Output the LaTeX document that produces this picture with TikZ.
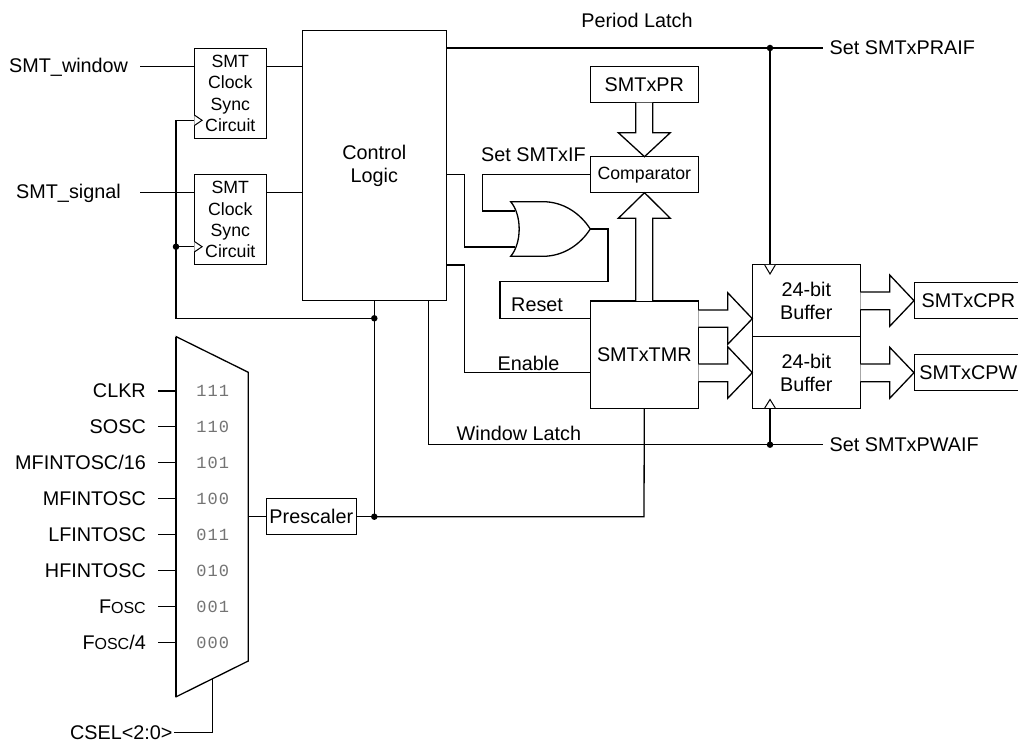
\documentclass[tikz,border=0pt]{standalone}
\usepackage{fontspec}
\setmainfont{Liberation Sans}
\setmonofont[LetterSpace=6]{Liberation Mono}
\tikzset{
  wire/.style={line width=1.3pt,line join=miter},
  blk/.style={draw,line width=1.3pt,fill=white,inner sep=0pt,align=center,font=\fontsize{19.8}{23}\selectfont},
  sbox/.style={blk,font=\fontsize{17.7}{21.2}\selectfont},
  lbl/.style={inner sep=0pt,font=\fontsize{19.8}{22}\selectfont},
  code/.style={inner sep=0pt,text=black!55,font=\ttfamily\fontsize{17}{20}\selectfont},
  dot/.style={circle,fill=black,inner sep=0pt,minimum size=6.5pt},
  shape2/.style={line width=1.3pt,fill=white,line join=miter}
}
\newcommand{\fosc}{F{\fontsize{16}{16}\selectfont OSC}}
\begin{document}
\begin{tikzpicture}[x=1pt,y=-1pt]
\useasboundingbox (0,0) rectangle (1018,743);
% blocks
\node[sbox,minimum width=72pt,minimum height=90pt] (sa) at (230.3,93.5) {SMT\\Clock\\Sync\\Circuit};
\node[sbox,minimum width=72pt,minimum height=90pt] (sb) at (230.3,219.7) {SMT\\Clock\\Sync\\Circuit};
\node[blk,minimum width=144pt,minimum height=269.6pt] (ctl) at (374.3,165.5) {Control\\Logic};
\node[blk,minimum width=108pt,minimum height=36pt] (pr) at (644.3,84.7) {SMTxPR};
\node[sbox,minimum width=108pt,minimum height=36pt] (cmp) at (644.3,174.7) {Comparator};
\node[blk,minimum width=108pt,minimum height=107.3pt] (tmr) at (644.3,354.6) {SMTxTMR};
\node[blk,minimum width=108pt,minimum height=72pt] (bufa) at (806.3,300.7) {24-bit\\Buffer};
\node[blk,minimum width=108pt,minimum height=71.6pt] (bufb) at (806.3,372.5) {24-bit\\Buffer};
\node[blk,minimum width=108pt,minimum height=36pt] (cpr) at (968.3,300.7) {SMTxCPR};
\node[blk,minimum width=108pt,minimum height=36pt] (cpw) at (968.3,372.7) {SMTxCPW};
\node[blk,minimum width=90pt,minimum height=36pt] (pre) at (311.3,516.7) {Prescaler};
% multiplexer
\coordinate (mtl) at (176.3,336.7);
\coordinate (mtr) at (248.3,372.3);
\coordinate (mbr) at (248.3,661);
\coordinate (mbl) at (176.3,696.7);
\draw[shape2] (mtl) -- (mtr) -- (mbr) -- (mbl) -- cycle;
\draw[line width=1.7pt] (mtl) -- (mbl);
\coordinate (mout) at (248.3,516.7);
\coordinate (msel) at (212.3,678.8);
% mux codes and inputs
\foreach \nm/\yy/\cd/\tx in {
  a/391/111/CLKR,b/426.7/110/SOSC,c/462.7/101/MFINTOSC\slash 16,d/498.7/100/MFINTOSC,
  e/534.7/011/LFINTOSC,f/570.7/010/HFINTOSC,g/606.7/001/\fosc,h/642.7/000/\fosc\slash 4}{
  \node[code] (code\nm) at (212.7,\yy) {\cd};
  \node[lbl,anchor=base east] (in\nm) at (146,\yy+7) {\tx};
  \coordinate (st\nm) at (158.3,\yy);
  \coordinate (en\nm) at (176.3,\yy);
  \draw[wire] (st\nm) -- (en\nm);
}
% labels
\node[lbl,anchor=base west] (lwin) at (9,73) {SMT\_window};
\node[lbl,anchor=base west] (lsig) at (16,199) {SMT\_signal};
\node[lbl,anchor=base] (lper) at (637,28) {Period Latch};
\node[lbl,anchor=base west] (lpra) at (829.5,55) {Set SMTxPRAIF};
\node[lbl,anchor=base west] (lpwa) at (829.5,451.5) {Set SMTxPWAIF};
\node[lbl,anchor=base west] (lif) at (481,162) {Set SMTxIF};
\node[lbl,anchor=base west] (lrst) at (511,312) {Reset};
\node[lbl,anchor=base west] (len) at (497.5,371) {Enable};
\node[lbl,anchor=base west] (lwl) at (456.5,440) {Window Latch};
\node[lbl,anchor=base east] (lcs) at (172.7,739.5) {CSEL<2:0>};
% junctions
\node[dot] (jclk) at (176,246.7) {};
\node[dot] (jctl) at (374.3,318.3) {};
\node[dot] (jpre) at (374.3,516.7) {};
\node[dot] (jper) at (770,48) {};
\node[dot] (jwin) at (770,444.7) {};
% SMT input wires
\coordinate (wstart) at (140,66.7);
\coordinate (sstart) at (140,192.7);
\draw[wire] (wstart) -- (sa.west |- wstart);
\draw[wire] (sstart) -- (sb.west |- sstart);
\draw[wire] (sa.east |- wstart) -- (ctl.west |- wstart);
\draw[wire] (sb.east |- sstart) -- (ctl.west |- sstart);
% clock distribution
\coordinate (ca) at (194.3,120.3);
\coordinate (cb) at (194.3,246.7);
\draw[wire] (ca) -- (jclk.center |- ca) -- (jclk.center) -- (jclk.center |- jctl) -- (jctl.center);
\draw[wire] (jclk.center) -- (cb);
\draw[line width=1pt,fill=white] (ca)++(0,-5.3) -- ++(7.8,5.3) -- ++(-7.8,5.3);
\draw[line width=1pt,fill=white] (cb)++(0,-5.3) -- ++(7.8,5.3) -- ++(-7.8,5.3);
\draw[wire] (ctl.south -| jctl) -- (jpre.center);
% mux to timer
\draw[wire] (mout) -- (pre.west);
\draw[wire] (pre.east) -- (jpre.center);
\coordinate (tbtm) at (644,516.7);
\draw[wire] (jpre.center) -- (tbtm) -- (tmr.south);
% period latch
\coordinate (ctlp) at (446.3,48);
\coordinate (perend) at (823.3,48);
\draw[wire] (ctlp) -- (perend);
\coordinate (cla) at (770,264.7);
\draw[wire] (jper.center) -- (cla);
\draw[line width=1pt,fill=white] (764.7,265) -- (770,274) -- (775.3,265);
% window latch
\coordinate (wl) at (428.3,300.3);
\coordinate (wlb) at (428.3,444.7);
\coordinate (winend) at (823.3,444.7);
\draw[wire] (wl) -- (wlb) -- (winend);
\coordinate (clb) at (770,408.3);
\draw[wire] (jwin.center) -- (clb);
\draw[line width=1pt,fill=white] (764.7,408) -- (770,399.5) -- (775.3,408);
% OR gate
\coordinate (orbt) at (510.7,201.7);
\coordinate (orbb) at (510.7,256.3);
\coordinate (orout) at (590.3,229);
\coordinate (ora) at (514.5,211);
\coordinate (orb) at (514.5,247);
\draw[shape2] (orbt) -- (543,201.7) .. controls (563,201.7) and (580,213) .. (orout)
  .. controls (580,245) and (563,256.3) .. (543,256.3) -- (orbb)
  .. controls (522,243) and (522,215) .. (orbt) -- cycle;
% control to gate
\coordinate (c1) at (446.3,174.7);
\coordinate (c1b) at (464.3,174.7);
\draw[wire] (c1) -- (c1b) -- (c1b |- orb) -- (orb);
% comparator to gate
\coordinate (f1) at (482.3,174.7);
\draw[wire] (cmp.west) -- (f1) -- (f1 |- ora) -- (ora);
% gate to reset
\coordinate (r1) at (608,229);
\coordinate (r2) at (608,281.7);
\coordinate (r3) at (500,281.7);
\coordinate (r4) at (500,318.7);
\draw[wire] (orout) -- (r1) -- (r2) -- (r3) -- (r4) -- (r4 -| tmr.west);
% enable
\coordinate (e1) at (446.3,265);
\coordinate (e2) at (464.3,265);
\coordinate (e3) at (464.3,372.7);
\draw[wire] (e1) -- (e2) -- (e3) -- (e3 -| tmr.west);
% CSEL
\coordinate (cs1) at (212.3,732.3);
\coordinate (cs2) at (174,732.3);
\draw[wire] (msel) -- (cs1) -- (cs2);
% block arrows
\draw[shape2] (635.7,102.7) -- (635.7,132.7) -- (618.3,132.7) -- (644.5,156.7) -- (670.3,132.7) -- (652.7,132.7) -- (652.7,102.7);
\draw[shape2] (635.7,300.9) -- (635.7,218.3) -- (618.3,218.3) -- (644.5,192.7) -- (670.3,218.3) -- (652.7,218.3) -- (652.7,300.9);
\draw[shape2] (698.3,310) -- (727.7,310) -- (727.7,292.7) -- (752.3,318.7) -- (727.7,344.3) -- (727.7,327.3) -- (698.3,327.3);
\draw[shape2] (698.3,364) -- (727.7,364) -- (727.7,346.7) -- (752.3,372.7) -- (727.7,398.3) -- (727.7,381.7) -- (698.3,381.7);
\draw[shape2] (860.3,292) -- (889.7,292) -- (889.7,275) -- (914,300.7) -- (889.7,326.3) -- (889.7,309.7) -- (860.3,309.7);
\draw[shape2] (860.3,364) -- (889.7,364) -- (889.7,347.3) -- (914,372.7) -- (889.7,398.3) -- (889.7,381.7) -- (860.3,381.7);
\end{tikzpicture}
\end{document}
